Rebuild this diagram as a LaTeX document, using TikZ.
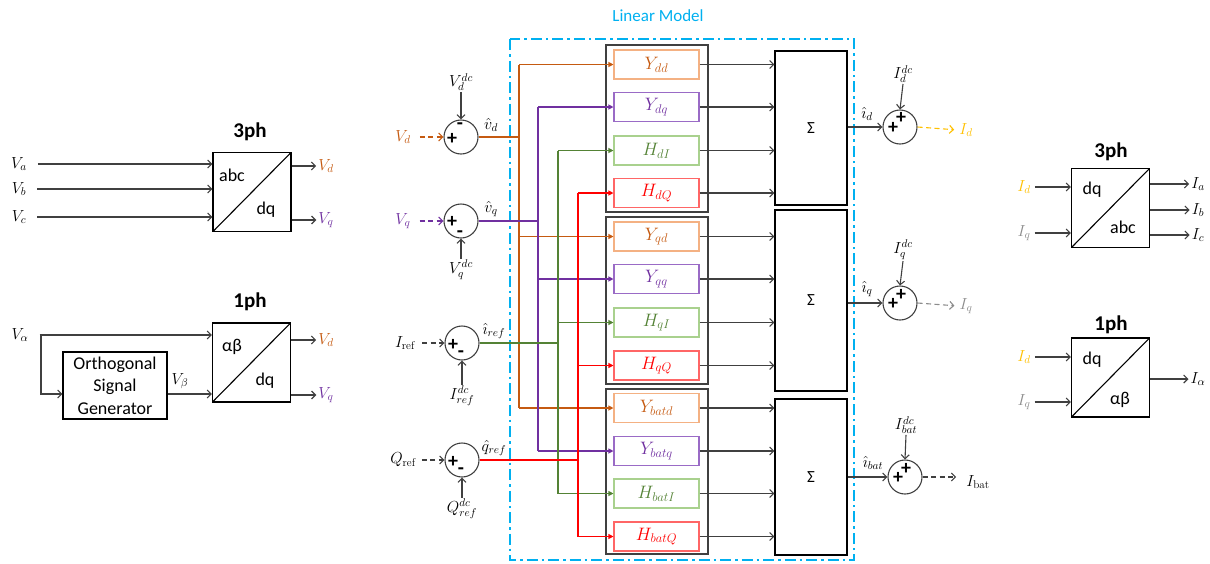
\documentclass[tikz,border=0pt]{standalone}
\usepackage{fix-cm}
\usepackage{fontspec}
\newfontfamily\calib{Carlito}
\usetikzlibrary{arrows.meta,calc}
\definecolor{dk}{HTML}{404040}
\definecolor{cor}{HTML}{C55A11}
\definecolor{corl}{HTML}{F4B183}
\definecolor{cpu}{HTML}{7030A0}
\definecolor{cpul}{HTML}{9A6BC6}
\definecolor{cgr}{HTML}{548235}
\definecolor{cgrl}{HTML}{A9D18E}
\definecolor{crd}{HTML}{FF0000}
\definecolor{crdl}{HTML}{FF6666}
\definecolor{cye}{HTML}{FFC000}
\definecolor{cgy}{HTML}{8C8C8C}
\definecolor{ccy}{HTML}{00B0F0}
\begin{document}
\begin{tikzpicture}[x=1pt,y=-1pt,
 ln/.style={draw=dk,line width=1.1pt},
 arr/.style={ln,-{Straight Barb[length=4pt,width=8pt]}},
 carr/.style={line width=1.1pt,-{Triangle[length=5pt,width=5pt]}},
 dsh/.style={dash pattern=on 5pt off 3.5pt},
 conv/.style={draw=black,line width=1.1pt,minimum width=78pt,minimum height=79pt,inner sep=0,
   path picture={\draw[line width=1.1pt] (path picture bounding box.south west) -- (path picture bounding box.north east);}},
 sumc/.style={circle,draw=dk,line width=1.1pt,minimum size=34pt,inner sep=0},
 tf/.style={draw,line width=1.1pt,minimum width=85pt,minimum height=29pt,inner sep=0,font=\fontsize{18}{20}\selectfont},
 sbox/.style={draw=black,line width=1.1pt,minimum width=72pt,inner sep=0,font=\calib\fontsize{17}{20}\selectfont},
 grp/.style={draw=dk,line width=1.2pt,minimum width=102pt,inner sep=0},
 ml/.style={font=\fontsize{16}{18}\selectfont,inner sep=1pt},
 sf/.style={font=\calib\fontsize{18}{22}\selectfont,inner sep=0},
 ttl/.style={font=\calib\bfseries\fontsize{21}{24}\selectfont,inner sep=0},
 pm/.style={font=\calib\bfseries\fontsize{20}{20}\selectfont,inner sep=0},
]
\useasboundingbox (0,0) rectangle (1210,563);

% ---------- left 3ph ----------
\node[conv] (c3) at (252,192) {};
\node[sf] at (232,175) {abc};
\node[sf] at (266,210) {dq};
\node[ttl] at (250,132) {3ph};
\node[ml] (va) at (19,164) {$V_a$};
\node[ml] (vb) at (19,189) {$V_b$};
\node[ml] (vc) at (19,217) {$V_c$};
\draw[arr,shorten <=10pt] (va.east) -- (c3.west |- va.east);
\draw[arr,shorten <=10pt] (vb.east) -- (c3.west |- vb.east);
\draw[arr,shorten <=10pt] (vc.east) -- (c3.west |- vc.east);
\node[ml,text=cor] (vd3) at (326,166) {$V_d$};
\node[ml,text=cpu] (vq3) at (326,220) {$V_q$};
\draw[arr,shorten >=1pt] (vd3.west -| c3.east) -- (vd3.west);
\draw[arr,shorten >=1pt] (vq3.west -| c3.east) -- (vq3.west);

% ---------- left 1ph ----------
\node[conv] (c1) at (251.5,362.5) {};
\node[sf] at (232,347) {αβ};
\node[sf] at (265,381) {dq};
\node[ttl] at (250,302) {1ph};
\node[ml] (val) at (20,335) {$V_\alpha$};
\node[draw=black,line width=1.1pt,minimum width=104pt,minimum height=67pt,inner sep=0,
      align=center,font=\calib\fontsize{18}{22.5}\selectfont] (osg) at (115,385.5) {Orthogonal\\Signal\\Generator};
\coordinate (br) at (41,335);
\draw[arr,shorten <=10pt] (val.east) -- (c1.west |- val.east);
\draw[arr] (br) |- ($(osg.west)+(0,8.5)$);
\draw[arr] ($(osg.east)+(0,8.5)$) -- ($(c1.west |- osg.east)+(0,8.5)$);
\node[ml] at (180,381) {$V_\beta$};
\node[ml,text=cor] (vd1) at (326,340) {$V_d$};
\node[ml,text=cpu] (vq1) at (326,395) {$V_q$};
\draw[arr,shorten >=1pt] (vd1.west -| c1.east) -- (vd1.west);
\draw[arr,shorten >=1pt] (vq1.west -| c1.east) -- (vq1.west);

% ---------- linear model frame ----------
\draw[draw=ccy,line width=2.2pt,dash pattern=on 11pt off 4pt on 2.5pt off 4pt] (510,39) rectangle (854,560);
\node[font=\calib\fontsize{17}{20}\selectfont,text=ccy] at (658,16) {Linear Model};

% ---------- input junctions ----------
\node[sumc] (jd) at (461,137) {};
\node[pm] at (452,139) {+};
\node[pm] at (460,126) {-};
\node[ml,text=cor] (Vd) at (403,137) {$V_d$};
\draw[arr,draw=cor,dsh,shorten <=8pt] (Vd.east) -- (jd.west);
\node[ml] (Vddc) at (461,82) {$V_d^{dc}$};
\draw[arr] (Vddc.south) -- (jd.north);
\node[ml] at (491,125) {$\hat{v}_d$};

\node[sumc] (jq) at (461,221) {};
\node[pm] at (452,222) {+};
\node[pm] at (460,234) {-};
\node[ml,text=cpu] (Vq) at (403,221) {$V_q$};
\draw[arr,draw=cpu,dsh,shorten <=8pt] (Vq.east) -- (jq.west);
\node[ml] (Vqdc) at (461,270) {$V_q^{dc}$};
\draw[arr] (Vqdc.north) -- (jq.south);
\node[ml] at (491,209) {$\hat{v}_q$};

\node[sumc] (ji) at (462,343) {};
\node[pm] at (453,345) {+};
\node[pm] at (461,354) {-};
\node[ml] (Ir) at (405,343) {$I_{\mathrm{ref}}$};
\draw[arr,dsh,shorten <=6pt] (Ir.east) -- (ji.west);
\node[ml] (Irdc) at (462,396) {$I_{ref}^{dc}$};
\draw[arr] (Irdc.north) -- (ji.south);
\node[ml] at (494,331) {$\hat{\imath}_{ref}$};

\node[sumc] (jr) at (462,460) {};
\node[pm] at (453,462) {+};
\node[pm] at (461,471) {-};
\node[ml] (Qr) at (403,460) {$Q_{\mathrm{ref}}$};
\draw[arr,dsh,shorten <=5pt] (Qr.east) -- (jr.west);
\node[ml] (Qrdc) at (462,509) {$Q_{ref}^{dc}$};
\draw[arr] (Qrdc.north) -- (jr.south);
\node[ml] at (494,448) {$\hat{q}_{ref}$};

% ---------- groups ----------
\node[grp,minimum height=167pt] (g1) at (657,128.5) {};
\node[grp,minimum height=167pt] (g2) at (657,300.5) {};
\node[grp,minimum height=165pt] (g3) at (657,471.5) {};

% ---------- transfer blocks ----------
\node[tf,draw=corl,text=cor] (Ydd) at (656.5,64.5) {$Y_{dd}$};
\node[tf,draw=cpul,text=cpu] (Ydq) at (656.5,107) {$Y_{dq}$};
\node[tf,draw=cgrl,text=cgr] (HdI) at (656.5,150.5) {$H_{dI}$};
\node[tf,draw=crdl,text=crd] (HdQ) at (656.5,193) {$H_{dQ}$};
\node[tf,draw=corl,text=cor] (Yqd) at (656.5,236.5) {$Y_{qd}$};
\node[tf,draw=cpul,text=cpu] (Yqq) at (656.5,279) {$Y_{qq}$};
\node[tf,draw=cgrl,text=cgr] (HqI) at (656.5,322.5) {$H_{qI}$};
\node[tf,draw=crdl,text=crd] (HqQ) at (656.5,365.5) {$H_{qQ}$};
\node[tf,draw=corl,text=cor] (Ybd) at (656.5,408) {$Y_{batd}$};
\node[tf,draw=cpul,text=cpu] (Ybq) at (656.5,451) {$Y_{batq}$};
\node[tf,draw=cgrl,text=cgr] (HbI) at (656.5,493.5) {$H_{batI}$};
\node[tf,draw=crdl,text=crd] (HbQ) at (656.5,536.5) {$H_{batQ}$};

% ---------- buses ----------
\coordinate (bd) at (519,0);
\coordinate (bq) at (538,0);
\coordinate (bi) at (558,0);
\coordinate (br2) at (578,0);
\draw[ln,draw=cor] (jd.east) -- (jd.east -| bd);
\draw[ln,draw=cor] (bd |- Ydd.west) -- (bd |- Ybd.west);
\foreach \b in {Ydd,Yqd,Ybd} \draw[carr,draw=cor,fill=cor] (bd |- \b.west) -- (\b.west);
\draw[ln,draw=cpu] (jq.east) -- (jq.east -| bq);
\draw[ln,draw=cpu] (bq |- Ydq.west) -- (bq |- Ybq.west);
\foreach \b in {Ydq,Yqq,Ybq} \draw[carr,draw=cpu,fill=cpu] (bq |- \b.west) -- (\b.west);
\draw[ln,draw=cgr] (ji.east) -- (ji.east -| bi);
\draw[ln,draw=cgr] (bi |- HdI.west) -- (bi |- HbI.west);
\foreach \b in {HdI,HqI,HbI} \draw[carr,draw=cgr,fill=cgr] (bi |- \b.west) -- (\b.west);
\draw[ln,draw=crd] (jr.east) -- (jr.east -| br2);
\draw[ln,draw=crd] (br2 |- HdQ.west) -- (br2 |- HbQ.west);
\foreach \b in {HdQ,HqQ,HbQ} \draw[carr,draw=crd,fill=crd] (br2 |- \b.west) -- (\b.west);

% ---------- sum boxes ----------
\node[sbox,minimum height=154pt] (S1) at (811,128) {Σ};
\node[sbox,minimum height=181pt] (S2) at (811,300.5) {Σ};
\node[sbox,minimum height=156pt] (S3) at (811,477) {Σ};
\foreach \b in {Ydd,Ydq,HdI,HdQ} \draw[arr] (\b.east) -- (\b.east -| S1.west);
\foreach \b in {Yqd,Yqq,HqI,HqQ} \draw[arr] (\b.east) -- (\b.east -| S2.west);
\foreach \b in {Ybd,Ybq,HbI,HbQ} \draw[arr] (\b.east) -- (\b.east -| S3.west);

% ---------- output junctions ----------
\node[sumc] (o1) at (900,127) {};
\node[pm] at (901,118) {+};
\node[pm] at (893,128) {+};
\draw[arr] (o1.west -| S1.east) -- (o1.west);
\node[ml] at (867,114) {$\hat{\imath}_d$};
\node[ml] (Iddc) at (903,74) {$I_d^{dc}$};
\draw[arr] (Iddc.south) -- (o1.north);
\node[ml,text=cye] (Id) at (966,130) {$I_d$};
\draw[arr,draw=cye,dsh,shorten >=4pt] (o1.east) -- (Id.west);

\node[sumc] (o2) at (900,303) {};
\node[pm] at (901,295) {+};
\node[pm] at (893,304) {+};
\draw[arr] (o2.west -| S2.east) -- (o2.west);
\node[ml] at (867,289) {$\hat{\imath}_q$};
\node[ml] (Iqdc) at (903,250) {$I_q^{dc}$};
\draw[arr] (Iqdc.south) -- (o2.north);
\node[ml,text=cgy] (Iq) at (966,306) {$I_q$};
\draw[arr,draw=cgy,dsh,shorten >=4pt] (o2.east) -- (Iq.west);

\node[sumc] (o3) at (905,477) {};
\node[pm] at (906,469) {+};
\node[pm] at (898,478) {+};
\draw[arr] (o3.west -| S3.east) -- (o3.west);
\node[ml] at (873,463) {$\hat{\imath}_{bat}$};
\node[ml] (Ibdc) at (906,425) {$I_{bat}^{dc}$};
\draw[arr] (Ibdc.south) -- (o3.north);
\node[ml] (Ib) at (978,482) {$I_{\mathrm{bat}}$};
\draw[arr,dsh,shorten >=9pt] (o3.east) -- (Ib.west |- o3.east);

% ---------- right 3ph ----------
\node[conv] (r3) at (1110.5,208) {};
\node[ttl] at (1111,152) {3ph};
\node[sf] at (1092,190) {dq};
\node[sf] at (1123,227) {abc};
\node[ml,text=cye] (rId) at (1024,187) {$I_d$};
\node[ml,text=cgy] (rIq) at (1024,233) {$I_q$};
\draw[arr,shorten <=3pt] (rId.east) -- (r3.west |- rId.east);
\draw[arr,shorten <=3pt] (rIq.east) -- (r3.west |- rIq.east);
\node[ml] (Ia) at (1198,184) {$I_a$};
\node[ml] (Ibb) at (1198,210) {$I_b$};
\node[ml] (Ic) at (1198,235) {$I_c$};
\draw[arr,shorten >=1pt] (Ia.west -| r3.east) -- (Ia.west);
\draw[arr,shorten >=1pt] (Ibb.west -| r3.east) -- (Ibb.west);
\draw[arr,shorten >=1pt] (Ic.west -| r3.east) -- (Ic.west);

% ---------- right 1ph ----------
\node[conv] (r1) at (1110.5,377.5) {};
\node[ttl] at (1111,325) {1ph};
\node[sf] at (1092,360) {dq};
\node[sf] at (1120,400) {αβ};
\node[ml,text=cye] (sId) at (1024,357) {$I_d$};
\node[ml,text=cgy] (sIq) at (1024,402) {$I_q$};
\draw[arr,shorten <=3pt] (sId.east) -- (r1.west |- sId.east);
\draw[arr,shorten <=3pt] (sIq.east) -- (r1.west |- sIq.east);
\node[ml] (Ial) at (1198,379) {$I_\alpha$};
\draw[arr,shorten >=1pt] (Ial.west -| r1.east) -- (Ial.west);
\end{tikzpicture}
\end{document}
